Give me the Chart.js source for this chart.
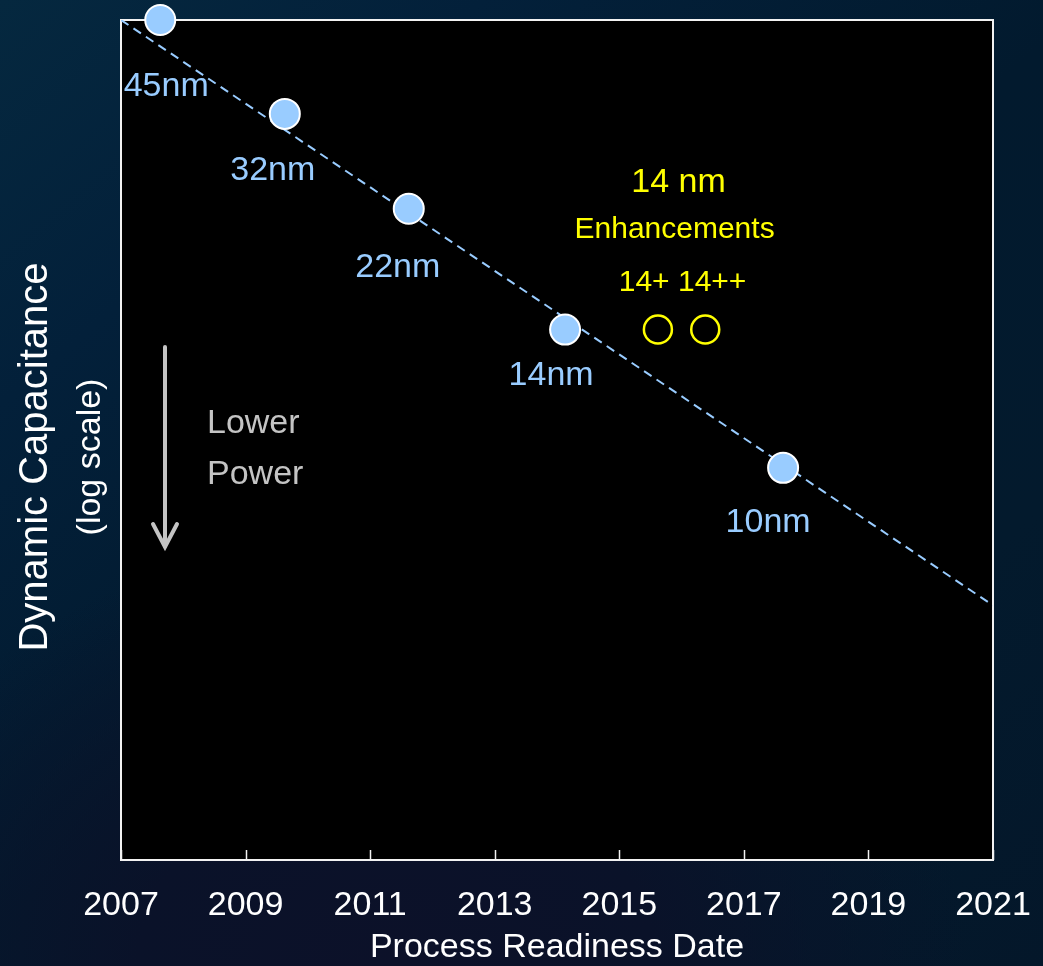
<!DOCTYPE html>
<html>
<head>
<meta charset="utf-8">
<title>Dynamic Capacitance by Process Node</title>
<script src="https://cdn.jsdelivr.net/npm/chart.js@4.4.1/dist/chart.umd.min.js"></script>
<style>
    html, body { margin: 0; padding: 0; }
    body {
        width: 1043px;
        height: 966px;
        overflow: hidden;
        background:
            radial-gradient(ellipse 55% 45% at 38% 100%, #0c1129 0%, #0a1229 45%, rgba(10, 18, 41, 0) 100%),
            linear-gradient(140deg, #05283f 0%, #03203a 22%, #021a2e 50%, #031a2d 75%, #04172a 100%);
    }
    canvas { display: block; }
</style>
</head>
<body>
<canvas id="capChart" width="1043" height="966"></canvas>
<script>
// Process nodes (readiness date, relative dynamic capacitance)
const nodeNames = ['45nm', '32nm', '22nm', '14nm', '10nm'];
const nodeDates = [2007.63, 2009.63, 2011.62, 2014.13, 2017.63];
const nodeCap = [1.0, 0.773, 0.596, 0.428, 0.293];

// 14nm enhancements: 14+ and 14++
const enhDates = [2015.62, 2016.38];
const enhCap = [0.428, 0.428];

// Scaling trend line
const trendDates = [2007, 2021];
const trendCap = [1.0, 0.201];

// X axis tick labels
const yearTicks = [2007, 2009, 2011, 2013, 2015, 2017, 2019, 2021];

const FONT = '"Liberation Sans", Arial, Helvetica, sans-serif';
const NODE_BLUE = '#99ccff';
const YELLOW = '#ffff00';
const GREY = '#c4c4c4';

// label offsets from each node marker (px)
const nodeLabelOffsets = [[6, 67], [-12, 57], [-11, 59], [-14, 46], [-15, 55]];

function toPoints(xs, ys) {
    return xs.map((x, i) => ({ x: x, y: ys[i] }));
}

// Black plot area with white frame and inward ticks
const plotFrame = {
    id: 'plotFrame',
    beforeDraw(chart) {
        const { ctx, chartArea: a } = chart;
        ctx.save();
        ctx.fillStyle = '#000000';
        ctx.fillRect(a.left, a.top, a.right - a.left, a.bottom - a.top);
        ctx.restore();
    },
    beforeDatasetsDraw(chart) {
        const { ctx, chartArea: a, scales } = chart;
        ctx.save();
        ctx.strokeStyle = '#f2f2f2';
        ctx.lineWidth = 2;
        ctx.strokeRect(a.left, a.top, a.right - a.left, a.bottom - a.top);
        ctx.lineWidth = 1.5;
        yearTicks.forEach(v => {
            const x = Math.round(scales.x.getPixelForValue(v)) + 0.5;
            ctx.beginPath();
            ctx.moveTo(x, a.bottom);
            ctx.lineTo(x, a.bottom - 10);
            ctx.stroke();
        });
        ctx.restore();
    }
};

// Node names, enhancement notes, "Lower Power" arrow and y title
const annotations = {
    id: 'annotations',
    afterDatasetsDraw(chart) {
        const { ctx, chartArea: a, scales } = chart;
        const x = scales.x, y = scales.y;
        ctx.save();
        ctx.textAlign = 'center';
        ctx.textBaseline = 'middle';

        // node names
        const meta = chart.getDatasetMeta(0);
        ctx.fillStyle = NODE_BLUE;
        ctx.font = '34px ' + FONT;
        meta.data.forEach((pt, i) => {
            const off = nodeLabelOffsets[i];
            ctx.fillText(nodeNames[i], pt.x + off[0], pt.y + off[1]);
        });

        // 14nm enhancements
        const enhMid = (x.getPixelForValue(enhDates[0]) + x.getPixelForValue(enhDates[1])) / 2;
        const enhY = y.getPixelForValue(enhCap[0]);
        ctx.fillStyle = YELLOW;
        ctx.font = '34px ' + FONT;
        ctx.fillText('14 nm', enhMid - 3, enhY - 147);
        ctx.font = '30px ' + FONT;
        ctx.fillText('Enhancements', enhMid - 7, enhY - 100);
        ctx.fillText('14+ 14++', enhMid + 1, enhY - 47);

        // Lower power arrow
        const ax = a.left + 44;
        ctx.strokeStyle = GREY;
        ctx.lineWidth = 4;
        ctx.lineCap = 'round';
        ctx.beginPath();
        ctx.moveTo(ax, a.top + 327);
        ctx.lineTo(ax, a.top + 526);
        ctx.stroke();
        ctx.beginPath();
        ctx.moveTo(ax - 12, a.top + 504);
        ctx.lineTo(ax, a.top + 527);
        ctx.lineTo(ax + 12, a.top + 504);
        ctx.stroke();

        ctx.fillStyle = GREY;
        ctx.font = '34px ' + FONT;
        ctx.textAlign = 'left';
        ctx.fillText('Lower', a.left + 86, a.top + 404);
        ctx.fillText('Power', a.left + 86, a.top + 455);
        ctx.restore();
    },
    afterDraw(chart) {
        const { ctx } = chart;
        ctx.save();
        ctx.fillStyle = '#ffffff';
        ctx.textAlign = 'center';
        ctx.textBaseline = 'middle';
        ctx.translate(0, 457);
        ctx.rotate(-Math.PI / 2);
        ctx.font = '40px ' + FONT;
        ctx.fillText('Dynamic Capacitance', 0, 36);
        ctx.font = '34px ' + FONT;
        ctx.fillText('(log scale)', 0, 91);
        ctx.restore();
    }
};

new Chart(document.getElementById('capChart'), {
    type: 'scatter',
    data: {
        datasets: [
            {
                label: 'Process node',
                data: toPoints(nodeDates, nodeCap),
                pointRadius: 15,
                pointBackgroundColor: NODE_BLUE,
                pointBorderColor: '#ffffff',
                pointBorderWidth: 2,
                clip: false
            },
            {
                label: '14nm enhancements',
                data: toPoints(enhDates, enhCap),
                pointRadius: 14,
                pointBackgroundColor: 'rgba(0,0,0,0)',
                pointBorderColor: YELLOW,
                pointBorderWidth: 2.5
            },
            {
                label: 'Trend',
                type: 'line',
                data: toPoints(trendDates, trendCap),
                showLine: true,
                borderColor: NODE_BLUE,
                borderWidth: 2,
                borderDash: [9, 6],
                pointRadius: 0,
                fill: false
            }
        ]
    },
    options: {
        responsive: false,
        animation: false,
        layout: { padding: { top: 20, right: 50, left: 0, bottom: 0 } },
        plugins: {
            legend: { display: false },
            tooltip: { enabled: false }
        },
        scales: {
            x: {
                type: 'linear',
                min: 2007,
                max: 2021,
                afterBuildTicks: scale => {
                    scale.ticks = yearTicks.map(v => ({ value: v }));
                },
                afterFit: scale => {
                    scale.height = 106;
                    scale.paddingLeft = 0;
                    scale.paddingRight = 0;
                },
                grid: { display: false },
                border: { display: false },
                ticks: {
                    color: '#ffffff',
                    padding: 17,
                    maxRotation: 0,
                    autoSkip: false,
                    font: { family: FONT, size: 34 },
                    callback: v => String(v)
                },
                title: {
                    display: true,
                    text: 'Process Readiness Date',
                    color: '#ffffff',
                    padding: { top: 0, bottom: -2 },
                    font: { family: FONT, size: 34 }
                }
            },
            y: {
                type: 'logarithmic',
                min: 0.1,
                max: 1,
                afterFit: scale => { scale.width = 121; },
                grid: { display: false },
                border: { display: false },
                ticks: { display: false }
            }
        }
    },
    plugins: [plotFrame, annotations]
});
</script>
</body>
</html>
